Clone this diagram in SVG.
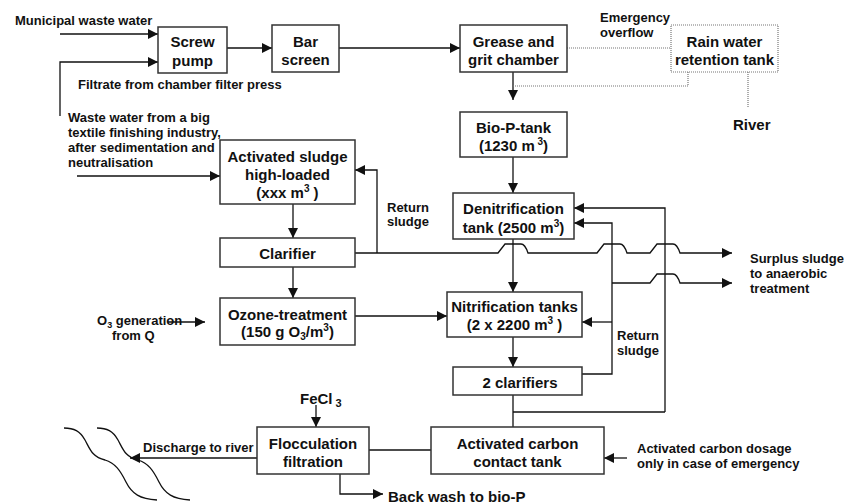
<svg xmlns="http://www.w3.org/2000/svg" width="844" height="504" viewBox="0 0 844 504">
<style>
.box{fill:#fff;stroke:#333;stroke-width:1.5}
.dot{fill:none;stroke:#777;stroke-width:1.2;stroke-dasharray:1,1}
.ln{fill:none;stroke:#111;stroke-width:1.3}
.t15{font-family:"Liberation Sans",Arial,sans-serif;font-weight:bold;font-size:15px;fill:#111}
.t13{font-family:"Liberation Sans",Arial,sans-serif;font-weight:bold;font-size:13px;fill:#111}
.c{text-anchor:middle}
</style>
<defs>
<marker id="ah" markerUnits="userSpaceOnUse" markerWidth="10" markerHeight="10" refX="10" refY="5" orient="auto">
<path d="M0,0 L10,5 L0,10 z" fill="#111"/>
</marker>
</defs>
<rect width="844" height="504" fill="#fff"/>

<g id="connectors">
<path class="ln" d="M60,34 H158" marker-end="url(#ah)"/>
<path class="ln" d="M60,116 V62 H158" marker-end="url(#ah)"/>
<path class="ln" d="M227,48 H272" marker-end="url(#ah)"/>
<path class="ln" d="M339,48 H460" marker-end="url(#ah)"/>
<path class="ln" d="M513,72 V100" marker-end="url(#ah)"/>
<path class="dot" d="M567,48 H671"/>
<path class="dot" d="M513,86 H688 V72"/>
<path class="dot" d="M748,72 V108"/>
<path class="ln" d="M513,157 V193" marker-end="url(#ah)"/>
<path class="ln" d="M77,176 H220" marker-end="url(#ah)"/>
<path class="ln" d="M293,204 V238" marker-end="url(#ah)"/>
<path class="ln" d="M293,267 V298" marker-end="url(#ah)"/>
<path class="ln" d="M377,253 V170 H355" marker-end="url(#ah)"/>
<path class="ln" d="M355,253 H498 L505,244 H521 Q525,244 528,253 H597 L604,244 H620 Q624,244 627,253 H650 L657,244 H673 Q677,244 680,253 H732" marker-end="url(#ah)"/>
<path class="ln" d="M612,283 H650 L657,274 H673 Q677,274 680,283 H732" marker-end="url(#ah)"/>
<path class="ln" d="M513,239 V292" marker-end="url(#ah)"/>
<path class="ln" d="M168,322 H205" marker-end="url(#ah)"/>
<path class="ln" d="M355,316 H447" marker-end="url(#ah)"/>
<path class="ln" d="M665,412 V208 H574" marker-end="url(#ah)"/>
<path class="ln" d="M582,374 H612 V223 H574" marker-end="url(#ah)"/>
<path class="ln" d="M612,322 H582" marker-end="url(#ah)"/>
<path class="ln" d="M513,337 V367" marker-end="url(#ah)"/>
<path class="ln" d="M513,395 V427"/>
<path class="ln" d="M513,412 H665"/>
<path class="ln" d="M369,450 H431"/>
<path class="ln" d="M627,458 H604" marker-end="url(#ah)"/>
<path class="ln" d="M316,405 V427" marker-end="url(#ah)"/>
<path class="ln" d="M340,474 V494 H383" marker-end="url(#ah)"/>
<path class="ln" d="M257,458 H130" marker-end="url(#ah)"/>
</g>

<g id="river-waves">
<path class="ln" d="M64,428 C74,428 80,431 85,440 S92,457 105,460 C115,463 120,470 126,482 S140,499 157,500"/>
<path class="ln" d="M97,428 C107,428 113,431 118,440 S125,457 138,460 C148,463 153,470 159,482 S173,499 190,500"/>
</g>

<g id="labels">
<text class="t13" x="15" y="25">Municipal waste water</text>
<text class="t13" x="78" y="89">Filtrate from chamber filter press</text>
<text class="t13" x="68" y="122">Waste water from a big</text>
<text class="t13" x="68" y="137">textile finishing industry,</text>
<text class="t13" x="68" y="152">after sedimentation and</text>
<text class="t13" x="68" y="167">neutralisation</text>
<text class="t13" x="600" y="22">Emergency</text>
<text class="t13" x="600" y="37">overflow</text>
<text class="t15" x="733" y="130">River</text>
<text class="t13" x="387" y="212">Return</text>
<text class="t13" x="387" y="226">sludge</text>
<text class="t13" x="750" y="263">Surplus sludge</text>
<text class="t13" x="750" y="278">to anaerobic</text>
<text class="t13" x="750" y="293">treatment</text>
<text class="t13" x="97" y="325">O<tspan font-size="9" dy="3">3</tspan><tspan dy="-3"> generation</tspan></text>
<text class="t13" x="112" y="340">from Q</text>
<text class="t13" x="617" y="340">Return</text>
<text class="t13" x="617" y="355">sludge</text>
<text class="t15" x="300" y="404">FeCl<tspan font-size="11" dy="3"> 3</tspan></text>
<text class="t13" x="143" y="452">Discharge to river</text>
<text class="t13" x="637" y="453">Activated carbon dosage</text>
<text class="t13" x="637" y="468">only in case of emergency</text>
<text class="t15" x="388" y="502">Back wash to bio-P</text>
</g>

<g id="screw-pump">
<rect class="box" x="158" y="27" width="69" height="46"/>
<text class="t15 c" x="192.5" y="47">Screw</text>
<text class="t15 c" x="192.5" y="66">pump</text>
</g>
<g id="bar-screen">
<rect class="box" x="272" y="25" width="67" height="47"/>
<text class="t15 c" x="305.5" y="47">Bar</text>
<text class="t15 c" x="305.5" y="65">screen</text>
</g>
<g id="grease-grit">
<rect class="box" x="460" y="25" width="107" height="47"/>
<text class="t15 c" x="513.5" y="47">Grease and</text>
<text class="t15 c" x="513.5" y="65">grit chamber</text>
</g>
<g id="rain-tank">
<rect class="dot" x="671" y="25" width="107" height="47"/>
<text class="t15 c" x="724.5" y="47">Rain water</text>
<text class="t15 c" x="724.5" y="65">retention tank</text>
</g>
<g id="bio-p">
<rect class="box" x="460" y="112" width="107" height="45"/>
<text class="t15 c" x="513.5" y="133">Bio-P-tank</text>
<text class="t15 c" x="513.5" y="151">(1230 m<tspan font-size="10" dy="-6"> 3</tspan><tspan dy="6">)</tspan></text>
</g>
<g id="activated-sludge">
<rect class="box" x="220" y="140" width="135" height="64"/>
<text class="t15 c" x="287.5" y="162">Activated sludge</text>
<text class="t15 c" x="287.5" y="180">high-loaded</text>
<text class="t15 c" x="287.5" y="198">(xxx  m<tspan font-size="10" dy="-6">3</tspan><tspan dy="6"> )</tspan></text>
</g>
<g id="clarifier">
<rect class="box" x="220" y="238" width="135" height="29"/>
<text class="t15 c" x="287.5" y="259">Clarifier</text>
</g>
<g id="ozone">
<rect class="box" x="220" y="298" width="135" height="47"/>
<text class="t15 c" x="287.5" y="320">Ozone-treatment</text>
<text class="t15 c" x="287.5" y="337">(150 g O<tspan font-size="10" dy="3">3</tspan><tspan dy="-3">/m</tspan><tspan font-size="10" dy="-6">3</tspan><tspan dy="6">)</tspan></text>
</g>
<g id="denitrification">
<rect class="box" x="453" y="193" width="121" height="46"/>
<text class="t15 c" x="513.5" y="214">Denitrification</text>
<text class="t15 c" x="513.5" y="233">tank (2500 m<tspan font-size="10" dy="-6">3</tspan><tspan dy="6">)</tspan></text>
</g>
<g id="nitrification">
<rect class="box" x="447" y="292" width="135" height="45"/>
<text class="t15 c" x="514.5" y="312">Nitrification tanks</text>
<text class="t15 c" x="514.5" y="330">(2 x 2200 m<tspan font-size="10" dy="-6">3</tspan><tspan dy="6"> )</tspan></text>
</g>
<g id="two-clarifiers">
<rect class="box" x="453" y="367" width="129" height="28"/>
<text class="t15 c" x="520" y="388">2 clarifiers</text>
</g>
<g id="carbon-tank">
<rect class="box" x="431" y="427" width="173" height="47"/>
<text class="t15 c" x="517.5" y="449">Activated carbon</text>
<text class="t15 c" x="517.5" y="467">contact tank</text>
</g>
<g id="flocculation">
<rect class="box" x="257" y="427" width="112" height="47"/>
<text class="t15 c" x="313" y="449">Flocculation</text>
<text class="t15 c" x="313" y="467">filtration</text>
</g>
</svg>
